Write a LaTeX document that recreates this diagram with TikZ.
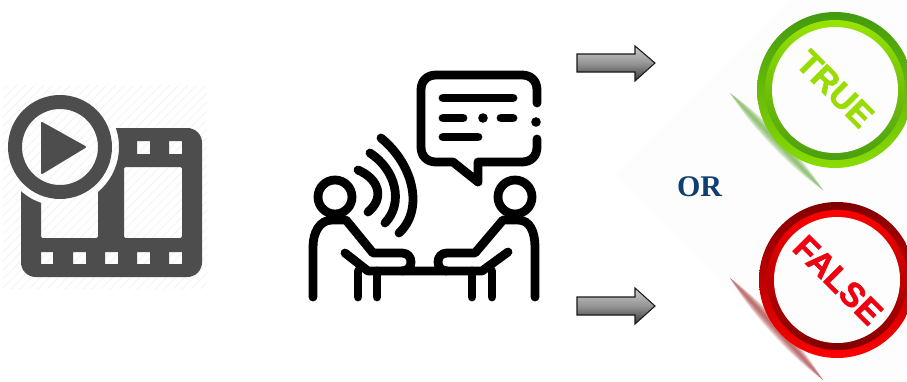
\documentclass[tikz,border=0pt]{standalone}
\usepackage{fontspec}
\setmainfont{Liberation Serif}
\newfontfamily\stampfont[FakeBold=1.6]{Liberation Sans Bold}
\usetikzlibrary{calc}
\definecolor{filmgray}{HTML}{4D4D4D}
\definecolor{ornavy}{HTML}{0F3F70}
\definecolor{truetext}{HTML}{99DD00}
\definecolor{falsetext}{HTML}{F00010}
\definecolor{gdark}{HTML}{429A10}
\definecolor{glight}{HTML}{8ADC00}
\definecolor{gbright}{HTML}{98E400}
\definecolor{gdeep}{HTML}{4A9E10}
\definecolor{rdark}{HTML}{800000}
\definecolor{rlight}{HTML}{FF0000}
\definecolor{rbright}{HTML}{FF0000}
\definecolor{gstreak}{HTML}{6DAE45}
\definecolor{rstreak}{HTML}{A83A3A}
\tikzset{
  iconline/.style={draw=black,line width=6.6pt,line cap=round,line join=round},
  blockarrow/.style={draw=black!90,line width=0.8pt,top color=black!20,bottom color=black!78,middle color=black!42},
  stamptext/.style={font=\stampfont\fontsize{25.5}{25.5}\selectfont,rotate=-45,inner sep=0pt},
}
\newcommand{\streak}[6]{% x1 y1 x2 y2 colour bulge
  \foreach \k in {1,0.88,0.76,0.64,0.52,0.4,0.28,0.16}{
    \fill[#5,opacity=0.14] (#1,#2) .. controls ($(#1,#2)!0.3!(#3,#4)+(-#6*\k,#6*\k)$) and ($(#1,#2)!0.7!(#3,#4)+(-#6*\k,#6*\k)$) .. (#3,#4)
       .. controls ($(#1,#2)!0.7!(#3,#4)+(#6*\k,-#6*\k)$) and ($(#1,#2)!0.3!(#3,#4)+(#6*\k,-#6*\k)$) .. (#1,#2) -- cycle;
  }}
\begin{document}
\begin{tikzpicture}[x=0.75pt,y=-0.75pt]
\useasboundingbox (0,0) rectangle (907,382);
\clip (0,0) rectangle (907,382);
\fill[white] (0,0) rectangle (907,382);
% faint backdrop of the stamps
\fill[black!0.8] (615,175) -- (790,0) -- (907,0) -- (907,382) -- (827,382) -- cycle;
% hatch behind the film icon
\begin{scope}
  \clip (3,85) rectangle (207,288);
  \foreach \d in {0,9,...,420}{
    \draw[black!4,line width=0.8pt] (\d-10,85) -- (\d-220,295);
  }
\end{scope}
% film strip
\begin{scope}[even odd rule]
  \clip (0,0) rectangle (907,382) (60,147) circle (59);
  \fill[filmgray,even odd rule,rounded corners=11pt]
    (21,128) rectangle (202,277)
    [rounded corners=1.1pt]
    (41,135) rectangle (98,238)
    (124,167) rectangle (182,238)
    [sharp corners]
    (41,252) rectangle (53,264)
    (73,252) rectangle (86,264)
    (105,252) rectangle (118,264)
    (137,252) rectangle (150,264)
    (169,252) rectangle (182,264)
    (137,141) rectangle (150,154)
    (169,141) rectangle (182,154);
\end{scope}
\fill[filmgray,even odd rule] (60,147) circle (52) (60,147) circle (38);
\fill[filmgray,draw=filmgray,line width=1.5pt,line join=round] (42,123) -- (85,147) -- (42,173) -- cycle;
% speech bubble
\draw[iconline] (537,103) -- (537,90) .. controls (537,81) and (531,75) .. (522,75) -- (436,75)
  .. controls (427,75) and (421,81) .. (421,90) -- (421,147) .. controls (421,156) and (427,162) .. (436,162)
  -- (453,162) -- (478,182) -- (478,162) -- (522,162) .. controls (531,162) and (537,156) .. (537,147) -- (537,139);
\fill[black] (536,122) circle (4.8);
\draw[iconline] (443,98) -- (513,98);
\draw[iconline] (443,118) -- (463,118);
\fill[black] (483,118) circle (4.8);
\draw[iconline] (501,118) -- (513,118);
\draw[iconline] (443,137) -- (478,137);
% sound waves
\draw[iconline] (358,170) .. controls (379,179) and (385,198) .. (368,212);
\draw[iconline] (370,153) .. controls (396,170) and (404,203) .. (385,223);
\draw[iconline] (381,138) .. controls (414,165) and (424,210) .. (399,233);
% people
\draw[iconline] (335,197) circle (17);
\draw[iconline] (515,197) circle (17);
\draw[iconline] (313,297) -- (313,247) .. controls (313,232) and (320,220) .. (332,220) -- (346,220)
  -- (373,253) -- (402,253) .. controls (414,253) and (414,271) .. (402,271);
\draw[iconline] (535,297) -- (535,247) .. controls (535,232) and (530,220) .. (518,220) -- (503,220)
  -- (475,253) -- (447,253) .. controls (435,253) and (435,271) .. (447,271);
\draw[iconline] (345,253) -- (368,271) -- (482,271) -- (508,252);
\draw[iconline] (358,271) -- (358,297);
\draw[iconline] (377,271) -- (377,297);
\draw[iconline] (472,271) -- (472,297);
\draw[iconline] (492,271) -- (492,297);
% arrows
\path[blockarrow] (577,54) -- (635,54) -- (635,46) -- (655,63) -- (635,81) -- (635,72) -- (577,72) -- cycle;
\path[blockarrow] (577,297) -- (635,297) -- (635,288) -- (655,306) -- (635,324) -- (635,315) -- (577,315) -- cycle;
% OR
\node[text=ornavy,font=\bfseries\fontsize{22.5}{22.5}\selectfont,inner sep=0pt] (ortext) at (699.5,187) {OR};
% TRUE stamp
\streak{730}{93}{823}{190}{gstreak}{6}
\shade[shading angle=-45,top color=gdark,bottom color=glight] (835,90) circle (78);
\shade[shading angle=-45,top color=gbright,bottom color=gdeep] (835,90) circle (70);
\fill[black!0.8] (835,90) circle (63);
\node[stamptext,text=truetext] (truetxt) at (835,89) {TRUE};
% FALSE stamp
\streak{730}{278}{823}{380}{rstreak}{6}
\shade[shading angle=-45,top color=rdark,bottom color=rlight] (837,280) circle (78);
\shade[shading angle=-45,top color=rbright,bottom color=rdark] (837,280) circle (70);
\fill[black!0.8] (837,280) circle (63);
\node[stamptext,text=falsetext] (falsetxt) at (838,280) {FALSE};
\end{tikzpicture}
\end{document}
